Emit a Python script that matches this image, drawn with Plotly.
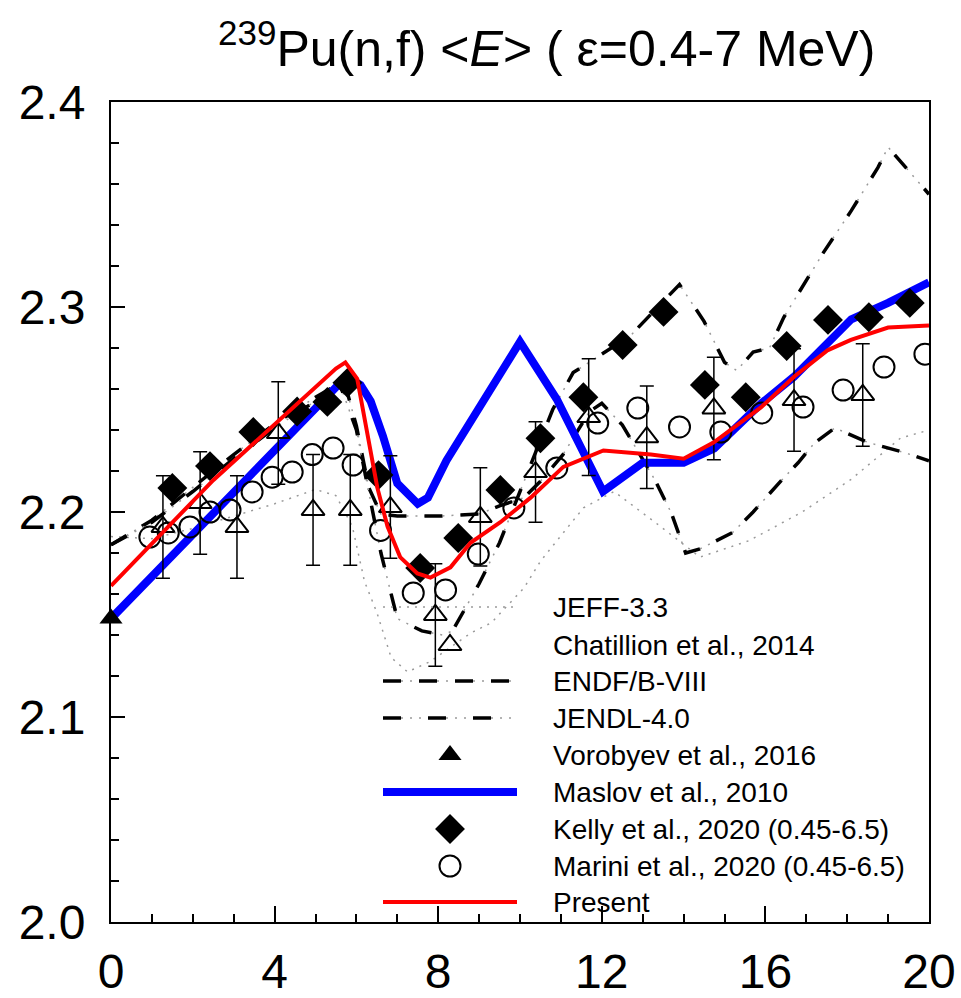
import plotly.graph_objects as go

# ---------------- data ----------------
kelly_x = [1.5, 2.42, 3.48, 4.55, 5.29, 5.78, 6.54, 7.56, 8.49, 9.52, 10.5, 11.55, 12.51, 13.51, 14.52, 15.52, 16.52, 17.53, 18.53, 19.53]
kelly_y = [2.2117, 2.2224, 2.239, 2.249, 2.2537, 2.263, 2.218, 2.1727, 2.1873, 2.2107, 2.236, 2.256, 2.2815, 2.2976, 2.262, 2.256, 2.281, 2.2937, 2.295, 2.302]

marini_x = [0.95, 1.4, 1.93, 2.42, 2.91, 3.45, 3.94, 4.43, 4.92, 5.43, 5.92, 6.59, 7.39, 8.18, 8.98, 9.85, 10.9, 11.9, 12.88, 13.9, 14.91, 15.91, 16.92, 17.9, 18.9, 19.9]
marini_y = [2.1878, 2.1898, 2.1927, 2.2, 2.201, 2.2098, 2.217, 2.2195, 2.228, 2.2312, 2.2229, 2.191, 2.1605, 2.162, 2.1795, 2.202, 2.2215, 2.2434, 2.2507, 2.2415, 2.239, 2.2483, 2.2512, 2.2595, 2.2707, 2.277]

chat_x = [1.27, 2.18, 3.08, 4.09, 4.94, 5.85, 6.83, 7.93, 9.03, 10.38, 11.68, 13.1, 14.74, 16.7, 18.38]
chat_y = [2.1927, 2.2044, 2.1927, 2.2385, 2.201, 2.201, 2.2024, 2.1498, 2.1976, 2.2195, 2.2463, 2.2365, 2.2505, 2.2546, 2.2571]
chat_err = [0.025, 0.025, 0.025, 0.025, 0.027, 0.027, 0.025, 0.025, 0.024, 0.0245, 0.0285, 0.025, 0.025, 0.025, 0.025]

vor_x = [0.0]
vor_y = [2.148]

maslov_x = [0, 5.75, 6.1, 6.35, 6.65, 7.0, 7.5, 7.75, 8.2, 8.7, 9.1, 10.0, 10.9, 11.55, 12.03, 13.0, 14.0, 14.75, 15.9, 16.7, 17.5, 18.1, 19.0, 20]
maslov_y = [2.148, 2.266, 2.262, 2.254, 2.237, 2.214, 2.204, 2.207, 2.225, 2.241, 2.253, 2.283, 2.255, 2.229, 2.21, 2.224, 2.224, 2.231, 2.253, 2.266, 2.282, 2.294, 2.302, 2.312]

present_x = [0, 2.5, 5.5, 5.73, 6.02, 6.27, 6.51, 6.76, 7.07, 7.49, 7.81, 8.3, 8.79, 9.52, 10.26, 11.06, 12.04, 13.2, 14.0, 14.74, 15.89, 16.7, 17.53, 18.09, 19.0, 20]
present_y = [2.164, 2.2155, 2.27, 2.273, 2.265, 2.239, 2.212, 2.193, 2.178, 2.170, 2.168, 2.173, 2.185, 2.195, 2.207, 2.222, 2.230, 2.228, 2.226, 2.234, 2.251, 2.266, 2.279, 2.284, 2.290, 2.291]

endf_x = [0, 1, 2, 3, 4, 5, 5.7, 6.0, 6.3, 6.6, 7.0, 8.0, 9.0, 9.5, 10.1, 10.5, 11.05, 11.7, 12.0, 12.5, 13.3, 13.7, 14.05, 14.4, 15.2, 15.7, 16.4, 16.8, 17.2, 17.7, 18.5, 19.4, 20]
endf_y = [2.184, 2.196, 2.212, 2.228, 2.243, 2.256, 2.264, 2.242, 2.212, 2.199, 2.198, 2.198, 2.199, 2.203, 2.207, 2.215, 2.228, 2.249, 2.253, 2.2425, 2.2156, 2.1995, 2.18, 2.182, 2.19, 2.2, 2.2156, 2.224, 2.2337, 2.241, 2.234, 2.229, 2.225]

jendl_x = [0, 1, 2, 3, 4, 5, 5.6, 6.0, 6.6, 7.0, 7.6, 8.1, 8.35, 9.0, 9.5, 10.0, 10.5, 10.8, 11.3, 12.7, 13.9, 14.5, 15.0, 15.3, 15.7, 16.1, 16.45, 17.4, 18.1, 18.75, 19.0, 19.4, 20]
jendl_y = [2.184, 2.195, 2.21, 2.226, 2.241, 2.254, 2.262, 2.24, 2.18, 2.148, 2.142, 2.14, 2.142, 2.165, 2.185, 2.21, 2.235, 2.25, 2.268, 2.286, 2.311, 2.293, 2.273, 2.269, 2.278, 2.28, 2.295, 2.326, 2.347, 2.368, 2.378, 2.369, 2.355]

jeff_x = [0, 1, 2, 3, 4, 5, 5.5, 5.9, 6.2, 6.5, 6.85, 7.25, 7.8, 8.8, 9.3, 10.1, 10.5, 11.55, 12.3, 13.3, 14.4, 15.6, 16.9, 18.1, 19.3, 20]
jeff_y = [2.188, 2.187, 2.192, 2.198, 2.204, 2.211, 2.208, 2.193, 2.166, 2.151, 2.129, 2.122, 2.127, 2.141, 2.146, 2.163, 2.176, 2.202, 2.21, 2.195, 2.178, 2.186, 2.2, 2.216, 2.236, 2.24]

legend_labels = ["JEFF-3.3", "Chatillion et al., 2014", "ENDF/B-VIII", "JENDL-4.0", "Vorobyev et al., 2016",
                 "Maslov et al., 2010", "Kelly et al., 2020 (0.45-6.5)", "Marini et al., 2020 (0.45-6.5)", "Present"]

GRAY = "#9a9a9a"
FONT = "Liberation Sans, Arial"
fig = go.Figure()

def add_line(x, y, kind, xa="x", ya="y"):
    if kind == "jeff":
        fig.add_trace(go.Scatter(x=x, y=y, mode="lines", xaxis=xa, yaxis=ya,
                                 line=dict(color=GRAY, width=1.5, dash="2px,6px")))
    elif kind == "endf":
        fig.add_trace(go.Scatter(x=x, y=y, mode="lines", xaxis=xa, yaxis=ya,
                                 line=dict(color=GRAY, width=1.5, dash="2px,7px")))
        fig.add_trace(go.Scatter(x=x, y=y, mode="lines", xaxis=xa, yaxis=ya,
                                 line=dict(color="black", width=3.5, dash="18px,18px")))
    elif kind == "jendl":
        fig.add_trace(go.Scatter(x=x, y=y, mode="lines", xaxis=xa, yaxis=ya,
                                 line=dict(color=GRAY, width=1.5, dash="2px,7px")))
        fig.add_trace(go.Scatter(x=x, y=y, mode="lines", xaxis=xa, yaxis=ya,
                                 line=dict(color="black", width=3.5, dash="18px,27px")))
    elif kind == "maslov":
        fig.add_trace(go.Scatter(x=x, y=y, mode="lines", xaxis=xa, yaxis=ya,
                                 line=dict(color="#0000ff", width=8)))
    elif kind == "present":
        fig.add_trace(go.Scatter(x=x, y=y, mode="lines", xaxis=xa, yaxis=ya,
                                 line=dict(color="#ff0000", width=4)))

add_line(jeff_x, jeff_y, "jeff")
add_line(endf_x, endf_y, "endf")
add_line(jendl_x, jendl_y, "jendl")
add_line(maslov_x, maslov_y, "maslov")

fig.add_trace(go.Scatter(x=chat_x, y=chat_y, mode="markers",
                         error_y=dict(type="data", array=chat_err, color="black", thickness=1.5, width=7),
                         marker=dict(symbol="triangle-up-open", size=20, color="black", line=dict(width=2, color="black"))))
fig.add_trace(go.Scatter(x=marini_x, y=marini_y, mode="markers",
                         marker=dict(symbol="circle-open", size=21, color="black", line=dict(width=2, color="black"))))
fig.add_trace(go.Scatter(x=kelly_x, y=kelly_y, mode="markers",
                         marker=dict(symbol="diamond", size=23, color="black", line=dict(width=0))))
fig.add_trace(go.Scatter(x=vor_x, y=vor_y, mode="markers", cliponaxis=False,
                         marker=dict(symbol="triangle-up", size=20, color="black")))
add_line(present_x, present_y, "present")

# ---------------- legend (overlay axes in pixel units) ----------------
rows = [607, 645, 681, 718, 755, 792, 829, 866, 902]
lx0, lx1, lxm, ltext = 383, 517, 450, 551
kinds = ["jeff", None, "endf", "jendl", None, "maslov", None, None, "present"]
for r, k in zip(rows, kinds):
    if k:
        add_line([lx0, lx1], [r, r], k, "x2", "y2")
fig.add_trace(go.Scatter(x=[lxm], y=[rows[1]], mode="markers", xaxis="x2", yaxis="y2",
                         marker=dict(symbol="triangle-up-open", size=20, color="black", line=dict(width=2))))
fig.add_trace(go.Scatter(x=[lxm], y=[rows[4]], mode="markers", xaxis="x2", yaxis="y2",
                         marker=dict(symbol="triangle-up", size=20, color="black")))
fig.add_trace(go.Scatter(x=[lxm], y=[rows[6]], mode="markers", xaxis="x2", yaxis="y2",
                         marker=dict(symbol="diamond", size=23, color="black")))
fig.add_trace(go.Scatter(x=[lxm], y=[rows[7]], mode="markers", xaxis="x2", yaxis="y2",
                         marker=dict(symbol="circle-open", size=21, color="black", line=dict(width=2))))

annotations = []
for r, lab in zip(rows, legend_labels):
    annotations.append(dict(x=ltext, y=r, xref="x2", yref="y2", text=lab, showarrow=False,
                            xanchor="left", yanchor="middle",
                            font=dict(family=FONT, size=28, color="black")))
annotations.append(dict(x=(546 - 111) / 818, y=1 + (102 - 45) / 820, xref="paper", yref="paper",
                        showarrow=False, xanchor="center", yanchor="middle",
                        text="<sup>239</sup>Pu(n,f) &lt;<i>E</i>&gt; ( ε=0.4-7 MeV)",
                        font=dict(family=FONT, size=50, color="black")))

fig.update_layout(
    width=961, height=998, showlegend=False,
    margin=dict(l=111, r=32, t=102, b=76),
    paper_bgcolor="white", plot_bgcolor="white",
    font=dict(family=FONT, color="black"),
    annotations=annotations,
    xaxis=dict(range=[0, 20], dtick=4, tick0=0, showgrid=False, zeroline=False, automargin=False,
               showline=True, linewidth=2, linecolor="black", mirror=True,
               ticks="inside", ticklen=16, tickwidth=2, tickcolor="black",
               ticklabelstandoff=6,
               tickfont=dict(size=48, family=FONT),
               minor=dict(dtick=1, ticks="inside", ticklen=8, tickwidth=1.5, tickcolor="black")),
    yaxis=dict(range=[2.0, 2.4], dtick=0.1, tick0=2.0, tickformat=".1f", showgrid=False, zeroline=False,
               automargin=False,
               showline=True, linewidth=2, linecolor="black", mirror=True,
               ticks="inside", ticklen=14, tickwidth=2, tickcolor="black",
               ticklabelstandoff=14,
               tickfont=dict(size=48, family=FONT),
               minor=dict(dtick=0.02, ticks="inside", ticklen=8, tickwidth=1.5, tickcolor="black")),
    xaxis2=dict(range=[111, 929], overlaying="x", visible=False, anchor="y2", automargin=False),
    yaxis2=dict(range=[922, 102], overlaying="y", visible=False, anchor="x2", automargin=False),
)
fig.write_html("out.html")
